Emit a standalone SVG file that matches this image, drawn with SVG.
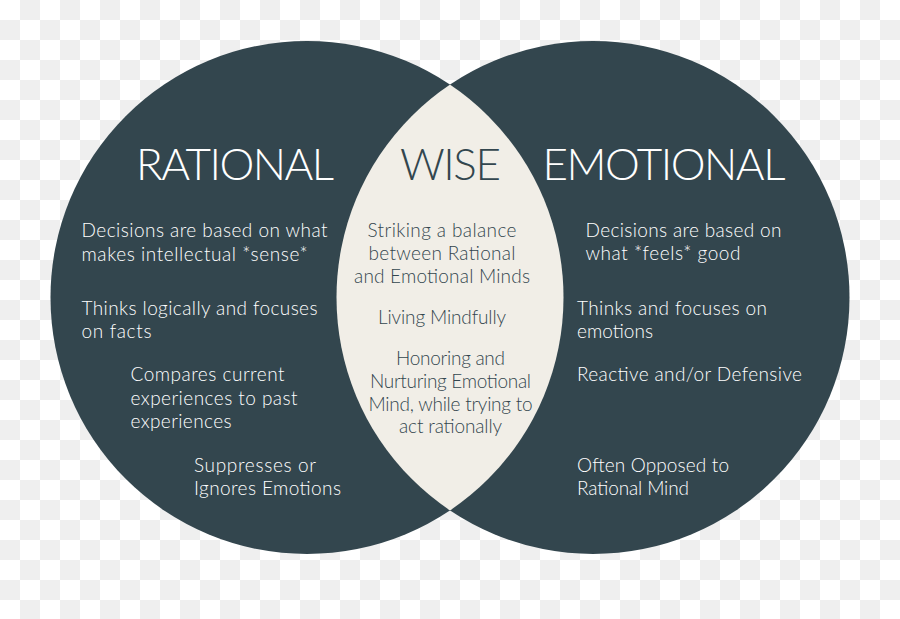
<svg xmlns="http://www.w3.org/2000/svg" width="900" height="619" viewBox="0 0 900 619">
  <defs>
    <pattern id="checker" x="0" y="0" width="40" height="40" patternUnits="userSpaceOnUse">
      <rect x="0" y="0" width="40" height="40" fill="#ffffff"/>
      <rect x="20" y="0" width="20" height="20" fill="#efefef"/>
      <rect x="0" y="20" width="20" height="20" fill="#efefef"/>
    </pattern>
    <clipPath id="leftClip">
      <circle cx="307" cy="297.5" r="256.5"/>
    </clipPath>
  </defs>
  <style>
    .circle { fill: #33464e; }
    .lens { fill: #f1eee7; }
    .title { font-family: Lato, "Liberation Sans", sans-serif; font-weight: 300; font-size: 44px; }
    .body { font-family: Lato, "Liberation Sans", sans-serif; font-weight: 300; font-size: 19px; }
    .light { fill: #ffffff; }
    .dark { fill: #33464e; }
    .mid { text-anchor: middle; }
  </style>
  <rect width="900" height="619" fill="url(#checker)"/>

  <g id="rational">
    <circle class="circle" cx="307" cy="297.5" r="256.5"/>
  </g>
  <g id="emotional">
    <circle class="circle" cx="593" cy="297.5" r="256.5"/>
  </g>
  <g id="wise">
    <circle class="lens" cx="593" cy="297.5" r="256.5" clip-path="url(#leftClip)"/>
  </g>

  <g id="connectors"/>

  <g id="rational-text" class="light">
    <text class="title" x="136" y="180" textLength="198">RATIONAL</text>
    <text class="body" x="81.5" y="237" textLength="246">Decisions are based on what</text>
    <text class="body" x="81.5" y="260.5" textLength="226">makes intellectual *sense*</text>
    <text class="body" x="81.5" y="314.5" textLength="236">Thinks logically and focuses</text>
    <text class="body" x="81.5" y="337.5" textLength="70">on facts</text>
    <text class="body" x="130.5" y="381" textLength="154">Compares current</text>
    <text class="body" x="130.5" y="404.5" textLength="167">experiences to past</text>
    <text class="body" x="130.5" y="427.5" textLength="101">experiences</text>
    <text class="body" x="194" y="472" textLength="122">Suppresses or</text>
    <text class="body" x="194" y="495" textLength="147">Ignores Emotions</text>
  </g>

  <g id="wise-text" class="dark">
    <text class="title" x="400" y="180" textLength="101">WISE</text>
    <text class="body mid" x="442" y="237" textLength="149">Striking a balance</text>
    <text class="body mid" x="442" y="260" textLength="147">between Rational</text>
    <text class="body mid" x="442" y="283" textLength="176">and Emotional Minds</text>
    <text class="body mid" x="442" y="324" textLength="128">Living Mindfully</text>
    <text class="body mid" x="450.5" y="365" textLength="109">Honoring and</text>
    <text class="body mid" x="450.5" y="388" textLength="161">Nurturing Emotional</text>
    <text class="body mid" x="450.5" y="411" textLength="164">Mind, while trying to</text>
    <text class="body mid" x="450.5" y="433" textLength="103">act rationally</text>
  </g>

  <g id="emotional-text" class="light">
    <text class="title" x="542.5" y="180" textLength="243">EMOTIONAL</text>
    <text class="body" x="585.5" y="237" textLength="196">Decisions are based on</text>
    <text class="body" x="585.5" y="260" textLength="155">what *feels* good</text>
    <text class="body" x="577" y="314.5" textLength="190">Thinks and focuses on</text>
    <text class="body" x="577" y="337.5" textLength="76">emotions</text>
    <text class="body" x="577" y="381" textLength="225">Reactive and/or Defensive</text>
    <text class="body" x="577" y="472" textLength="152">Often Opposed to</text>
    <text class="body" x="577" y="495" textLength="112">Rational Mind</text>
  </g>
</svg>
